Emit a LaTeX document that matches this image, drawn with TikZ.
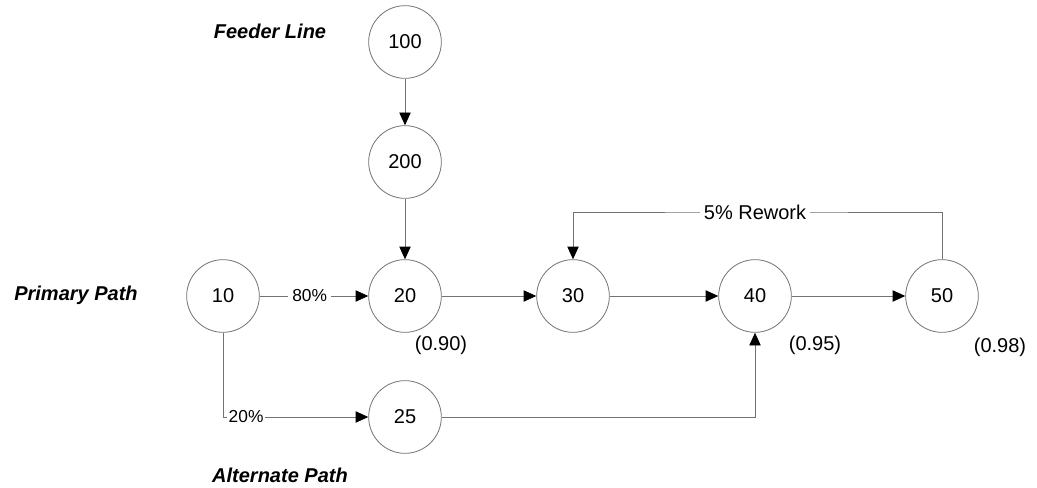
\documentclass[tikz,border=0pt]{standalone}
\usepackage{fontspec}
\setmainfont{Liberation Sans}
\usetikzlibrary{arrows.meta}
\begin{document}
\begin{tikzpicture}[x=0.75pt,y=-0.75pt,
    station/.style={circle,draw=black!55,line width=0.6pt,minimum size=54.5pt,inner sep=0pt,font=\fontsize{15}{18}\selectfont},
    title/.style={font=\fontsize{15}{18}\selectfont\bfseries\itshape},
    yield/.style={font=\fontsize{15}{18}\selectfont},
    share/.style={fill=white,inner sep=1.5pt,font=\fontsize{13}{16}\selectfont},
    flow/.style={draw=black!55,line width=0.6pt,-{Triangle[length=9.5pt,width=8.5pt,color=black]}}]
  \useasboundingbox (0,0) rectangle (1037,488);
  \draw
    (405,42) node[station] (100){100}
    (405,162) node[station] (200){200}
    (223,296) node[station] (10){10}
    (405,296) node[station] (20){20}
    (573,296) node[station] (30){30}
    (755,296) node[station] (40){40}
    (942,296) node[station] (50){50}
    (405,417) node[station] (25){25};
  \node[title] (feeder) at (270,31) {Feeder Line};
  \node[title] (primary) at (76,295) {Primary Path};
  \node[title] (alternate) at (280,475) {Alternate Path};
  \node[yield] (y20) at (441,345) {(0.90)};
  \node[yield] (y40) at (815,345) {(0.95)};
  \node[yield] (y50) at (1000,347) {(0.98)};
  \coordinate (rw) at (755,212);
  \begin{scope}[flow]
    \draw (100) to (200);
    \draw (200) to (20);
    \draw (10) to node[share,pos=0.46,inner xsep=3pt] {80\%} (20);
    \draw (10) |- node[share,pos=0.5,anchor=west,xshift=3pt,inner xsep=1pt] {20\%\hspace{6pt}} (25);
    \draw (20) to (30);
    \draw (30) to (40);
    \draw (40) to (50);
    \draw (25) -| (40);
    \draw (50) |- (rw) node[fill=white,inner sep=3pt,font=\fontsize{15}{18}\selectfont] {5\% Rework} -| (30);
  \end{scope}
\end{tikzpicture}
\end{document}
